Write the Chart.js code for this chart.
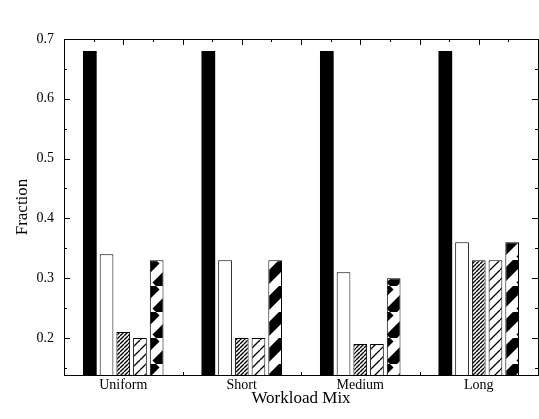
<!DOCTYPE html>
<html>
<head>
<meta charset="utf-8">
<script src="https://cdn.jsdelivr.net/npm/chart.js@4.4.1/dist/chart.umd.min.js"></script>
<style>
  html, body { margin: 0; padding: 0; background: #fff; }
  #wrap { width: 539px; height: 419px; }
</style>
</head>
<body>
<div id="wrap"><canvas id="myChart" width="539" height="419"></canvas></div>
<script>
// data
var categories = ['Uniform', 'Short', 'Medium', 'Long'];
var series1 = [0.68, 0.68, 0.68, 0.68];
var series2 = [0.34, 0.33, 0.31, 0.36];
var series3 = [0.21, 0.20, 0.19, 0.33];
var series4 = [0.20, 0.20, 0.19, 0.33];
var series5 = [0.33, 0.33, 0.30, 0.36];
var yTicks = [0.2, 0.3, 0.4, 0.5, 0.6, 0.7];
var yMinorTicks = [0.15, 0.25, 0.35, 0.45, 0.55, 0.65];

var serif = "'Liberation Serif', 'DejaVu Serif', serif";

// diagonal "/" stripes on a square tile
function stripes(size, width, fg, bg) {
    var c = document.createElement('canvas');
    c.width = size; c.height = size;
    var g = c.getContext('2d');
    g.fillStyle = bg;
    g.fillRect(0, 0, size, size);
    g.strokeStyle = fg;
    g.lineWidth = width;
    g.beginPath();
    for (var k = -1; k <= 1; k++) {
        g.moveTo(k * size, size);
        g.lineTo(k * size + size, 0);
    }
    g.stroke();
    return document.getElementById('myChart').getContext('2d').createPattern(c, 'repeat');
}

var denseHatch = stripes(4, 1.4, '#000', '#fff');
var sparseHatch = stripes(10, 1.3, '#000', '#fff');
var bigStripes = stripes(26, 10, '#000', '#fff');

// inward ticks + frame, positioned through the chart's own scales
var frameTicks = {
    id: 'frameTicks',
    afterDraw: function(chart) {
        var ctx = chart.ctx, a = chart.chartArea;
        var x = chart.scales.x, y = chart.scales.y;
        ctx.save();
        ctx.strokeStyle = '#000';
        ctx.lineWidth = 1;
        ctx.strokeRect(a.left + 0.5, a.top + 0.5, a.right - a.left, a.bottom - a.top);
        ctx.beginPath();
        yTicks.forEach(function(v) {
            var p = Math.round(y.getPixelForValue(v)) + 0.5;
            ctx.moveTo(a.left, p); ctx.lineTo(a.left + 6, p);
            ctx.moveTo(a.right, p); ctx.lineTo(a.right - 6, p);
        });
        yMinorTicks.forEach(function(v) {
            var p = Math.round(y.getPixelForValue(v)) + 0.5;
            ctx.moveTo(a.left, p); ctx.lineTo(a.left + 3, p);
            ctx.moveTo(a.right, p); ctx.lineTo(a.right - 3, p);
        });
        // top axis: every quarter category, longer at centres and boundaries
        for (var q = 0; q <= categories.length * 4; q++) {
            var i = -0.5 + q / 4;
            var px = Math.round(x.getPixelForValue(i)) + 0.5;
            ctx.moveTo(px, a.top); ctx.lineTo(px, a.top + (q % 2 === 0 ? 6 : 3));
            if (q % 4 === 0) {
                ctx.moveTo(px, a.bottom); ctx.lineTo(px, a.bottom - 3);
            }
        }
        ctx.stroke();
        ctx.restore();
    }
};

function bars(label, data, fill, bw) {
    return {
        label: label,
        data: data,
        backgroundColor: fill,
        borderColor: '#000',
        borderWidth: bw,
        borderSkipped: false,
        categoryPercentage: 0.705,
        barPercentage: 0.82
    };
}

var ctx = document.getElementById('myChart').getContext('2d');
var myChart = new Chart(ctx, {
    type: 'bar',
    data: {
        labels: categories,
        datasets: [
            bars('s1', series1, '#000', 0),
            bars('s2', series2, '#fff', 1),
            bars('s3', series3, denseHatch, 1),
            bars('s4', series4, sparseHatch, 1),
            bars('s5', series5, bigStripes, 1)
        ]
    },
    options: {
        responsive: false,
        animation: false,
        layout: { padding: { left: 0, top: 39, right: 1, bottom: 0 } },
        plugins: { legend: { display: false }, tooltip: { enabled: false } },
        scales: {
            x: {
                grid: { display: false, drawTicks: false },
                border: { display: false },
                ticks: { color: '#000', padding: 2, font: { family: serif, size: 14 } },
                title: {
                    display: true, text: 'Workload Mix', color: '#000',
                    font: { family: serif, size: 17 }, padding: { top: 0, bottom: 10 }
                },
                afterFit: function(s) { s.height = 44; }
            },
            y: {
                min: 0.138,
                max: 0.7,
                grid: { display: false, drawTicks: false },
                border: { display: false },
                afterBuildTicks: function(s) { s.ticks = yTicks.map(function(v) { return { value: v }; }); },
                ticks: {
                    color: '#000', padding: 10,
                    font: { family: serif, size: 14 },
                    callback: function(v) { return Number(v).toFixed(1); }
                },
                title: {
                    display: true, text: 'Fraction', color: '#000',
                    font: { family: serif, size: 17 }, padding: { top: 12, bottom: 0 }
                },
                afterFit: function(s) { s.width = 64; }
            }
        }
    },
    plugins: [frameTicks]
});
</script>
</body>
</html>
